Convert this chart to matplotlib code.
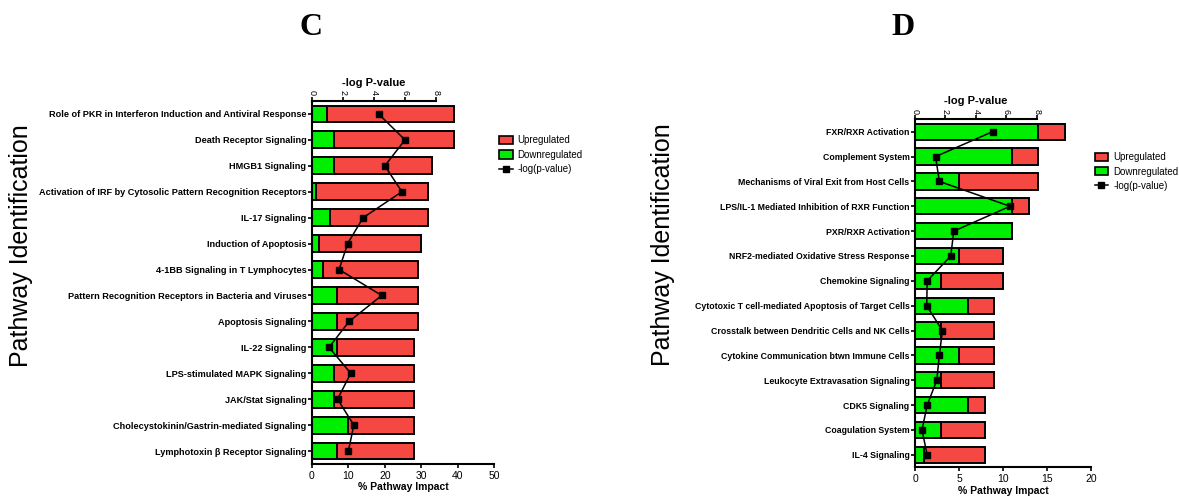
import numpy as np
import matplotlib.pyplot as plt
from matplotlib.patches import Patch
from matplotlib.lines import Line2D

plt.rcParams['font.family'] = ['Liberation Sans', 'DejaVu Sans']

# ---- panel C data ----
c_pathways = ["Role of PKR in Interferon Induction and Antiviral Response",
              "Death Receptor Signaling",
              "HMGB1 Signaling",
              "Activation of IRF by Cytosolic Pattern Recognition Receptors",
              "IL-17 Signaling",
              "Induction of Apoptosis",
              "4-1BB Signaling in T Lymphocytes",
              "Pattern Recognition Receptors in Bacteria and Viruses",
              "Apoptosis Signaling",
              "IL-22 Signaling",
              "LPS-stimulated MAPK Signaling",
              "JAK/Stat Signaling",
              "Cholecystokinin/Gastrin-mediated Signaling",
              "Lymphotoxin \u03b2 Receptor Signaling"]
c_down = [4, 6, 6, 1, 5, 2, 3, 7, 7, 7, 6, 6, 10, 7]
c_up = [35, 33, 27, 31, 27, 28, 26, 22, 22, 21, 22, 22, 18, 21]
c_logp = [4.3, 6.0, 4.7, 5.8, 3.3, 2.3, 1.75, 4.5, 2.4, 1.1, 2.5, 1.65, 2.7, 2.35]

# ---- panel D data ----
d_pathways = ["FXR/RXR Activation",
              "Complement System",
              "Mechanisms of Viral Exit from Host Cells",
              "LPS/IL-1 Mediated Inhibition of RXR Function",
              "PXR/RXR Activation",
              "NRF2-mediated Oxidative Stress Response",
              "Chemokine Signaling",
              "Cytotoxic T cell-mediated Apoptosis of Target Cells",
              "Crosstalk between Dendritic Cells and NK Cells",
              "Cytokine Communication btwn Immune Cells",
              "Leukocyte Extravasation Signaling",
              "CDK5 Signaling",
              "Coagulation System",
              "IL-4 Signaling"]
d_down = [14, 11, 5, 11, 11, 5, 3, 6, 3, 5, 3, 6, 3, 1]
d_up = [3, 3, 9, 2, 0, 5, 7, 3, 6, 4, 6, 2, 5, 7]
d_logp = [5.1, 1.35, 1.6, 6.25, 2.55, 2.35, 0.8, 0.77, 1.8, 1.6, 1.43, 0.8, 0.46, 0.8]

RED = '#F54842'
GREEN = '#00EE00'

fig = plt.figure(figsize=(11.79, 4.97), dpi=100)


def draw_panel(rect, names, down, up, logp, xmax, xstep, toplim, labsize):
    ax = fig.add_axes(rect)
    y = np.arange(len(names))
    ax.barh(y, down, height=0.65, color=GREEN, edgecolor='black', linewidth=1.4)
    ax.barh(y, up, left=down, height=0.65, color=RED, edgecolor='black', linewidth=1.4)
    ax.set_ylim(len(names) - 0.5, -0.5)
    ax.set_xlim(0, xmax)
    ax.set_xticks(np.arange(0, xmax + 0.1, xstep))
    ax.set_yticks(y)
    ax.set_yticklabels(names, fontsize=labsize, fontweight='bold')
    ax.tick_params(axis='x', labelsize=7.5, width=1.2, length=3, pad=2)
    ax.tick_params(axis='y', width=1.2, length=3, pad=1)
    ax.spines['right'].set_visible(False)
    ax.spines['top'].set_visible(False)
    for s in ['left', 'bottom']:
        ax.spines[s].set_linewidth(1.5)
    ax.set_xlabel('% Pathway Impact', fontsize=7.5, fontweight='bold', labelpad=1)

    # -log p-value on its own top axis
    ax2 = ax.twiny()
    ax2.plot(logp, y, color='black', marker='s', markersize=4, linewidth=1.1)
    ax2.set_xlim(0, toplim)
    ax2.set_ylim(len(names) - 0.5, -0.5)
    ax2.set_xticks([0, 2, 4, 6, 8])
    ax2.set_xticklabels(['0', '2', '4', '6', '8'], rotation=-90, fontsize=6.5)
    ax2.tick_params(axis='x', width=1.2, length=3, pad=1)
    for s in ['right', 'bottom', 'left']:
        ax2.spines[s].set_visible(False)
    ax2.spines['top'].set_bounds(0, 8)
    ax2.spines['top'].set_linewidth(1.5)
    ax2.set_xlabel('-log P-value', fontsize=8, fontweight='bold', labelpad=3)
    ax2.xaxis.label.set_x(4 / toplim)
    return ax, ax2


axC, axC2 = draw_panel([0.2646, 0.0664, 0.1544, 0.7304], c_pathways, c_down, c_up, c_logp, 50, 10, 11.74, 6.6)
axD, axD2 = draw_panel([0.7761, 0.0598, 0.1493, 0.7002], d_pathways, d_down, d_up, d_logp, 20, 5, 11.58, 6.3)

handles = [Patch(facecolor=RED, edgecolor='black', linewidth=1.2, label='Upregulated'),
           Patch(facecolor=GREEN, edgecolor='black', linewidth=1.2, label='Downregulated'),
           Line2D([], [], color='black', marker='s', markersize=4, linewidth=1.1, label='-log(p-value)')]
fig.legend(handles=handles, loc='upper left', bbox_to_anchor=(0.416, 0.745), frameon=False,
           fontsize=7, handlelength=1.4, handleheight=0.9, labelspacing=0.45, handletextpad=0.5)
fig.legend(handles=handles, loc='upper left', bbox_to_anchor=(0.921, 0.711), frameon=False,
           fontsize=7, handlelength=1.4, handleheight=0.9, labelspacing=0.45, handletextpad=0.5)

fig.text(0.018, 0.505, 'Pathway Identification', rotation=90, fontsize=18, ha='center', va='center')
fig.text(0.562, 0.508, 'Pathway Identification', rotation=90, fontsize=18, ha='center', va='center')

fig.text(0.264, 0.945, 'C', fontsize=23, fontweight='bold', family='Liberation Serif', ha='center', va='center')
fig.text(0.766, 0.945, 'D', fontsize=23, fontweight='bold', family='Liberation Serif', ha='center', va='center')

fig.savefig('out.png', dpi=100)
